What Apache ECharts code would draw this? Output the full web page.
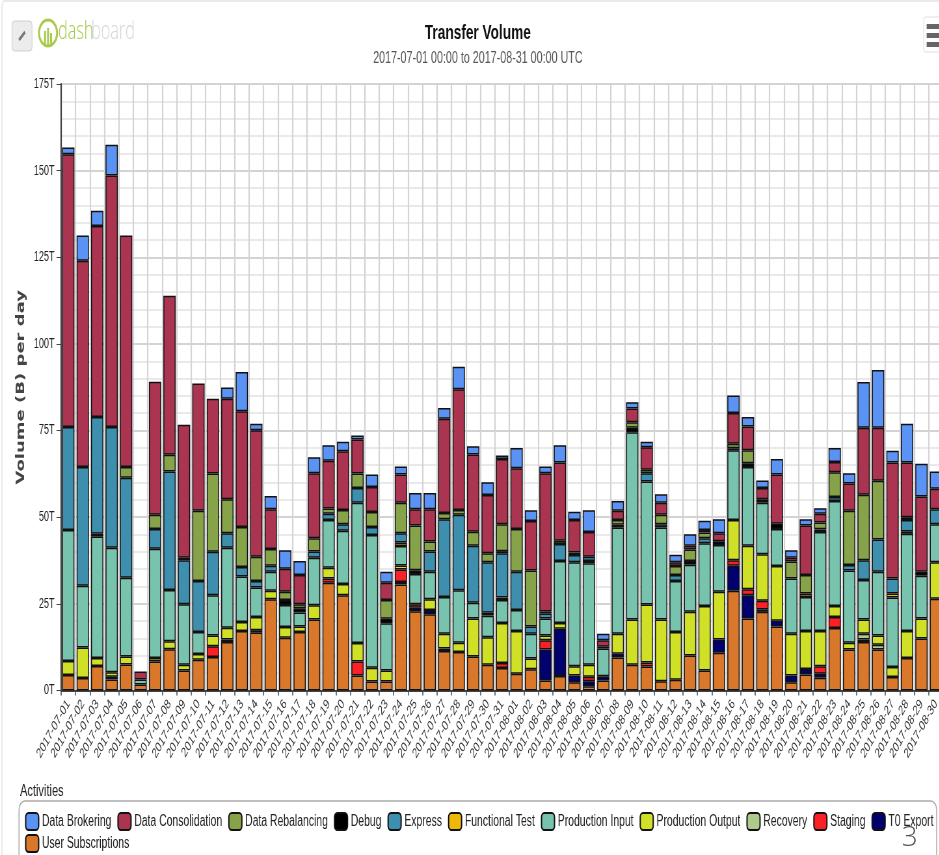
<!DOCTYPE html>
<html><head><meta charset="utf-8">
<style>html,body{margin:0;padding:0;background:#fff;overflow:hidden;width:939px;height:855px}
#c{width:1444.6px;height:855px;transform:scaleX(0.65);transform-origin:0 0}</style>
<script src="https://cdn.jsdelivr.net/npm/echarts@6/dist/echarts.min.js"></script>
</head><body><div id="c"></div>
<script>
const categories = [
"2017-07-01","2017-07-02","2017-07-03","2017-07-04","2017-07-05","2017-07-06","2017-07-07","2017-07-08","2017-07-09","2017-07-10",
"2017-07-11","2017-07-12","2017-07-13","2017-07-14","2017-07-15","2017-07-16","2017-07-17","2017-07-18","2017-07-19","2017-07-20",
"2017-07-21","2017-07-22","2017-07-23","2017-07-24","2017-07-25","2017-07-26","2017-07-27","2017-07-28","2017-07-29","2017-07-30",
"2017-07-31","2017-08-01","2017-08-02","2017-08-03","2017-08-04","2017-08-05","2017-08-06","2017-08-07","2017-08-08","2017-08-09",
"2017-08-10","2017-08-11","2017-08-12","2017-08-13","2017-08-14","2017-08-15","2017-08-16","2017-08-17","2017-08-18","2017-08-19",
"2017-08-20","2017-08-21","2017-08-22","2017-08-23","2017-08-24","2017-08-25","2017-08-26","2017-08-27","2017-08-28","2017-08-29","2017-08-30"];
const userSubscriptions = [4.5,3.6,7.1,3.2,7.5,1.7,8.4,11.9,5.8,8.9,
9.7,14,17.2,16.7,26.3,15.2,16.9,20.5,31.1,27.5,
4.3,2.6,2.6,30.6,22.9,22,11.4,11.1,9.8,7.4,
6.5,4.8,6.1,2.9,4.2,2.4,1.2,2.9,9.5,7.4,
6.9,2.7,3.1,10.1,5.8,10.9,28.8,20.8,22.7,18.5,
2.4,4.6,3.7,18,11.8,14,11.8,3.9,9.4,15,26.5];
const t0Export = [0,0,0,.8,0,0,0,0,0,0,
0,.7,0,.7,0,0,0,0,0,0,
0,0,0,.7,1,1.2,.7,0,0,0,
0,0,0,8.9,13.6,1.9,1.5,1.2,1.1,0,
0,0,0,0,0,3.8,7.2,6.7,.7,1.6,
1.9,1.6,1.1,0,0,.7,0,0,0,0,0];
const staging = [0,0,0,0,0,0,0,0,0,0,
3.1,0,0,0,0,0,0,0,1.2,0,
4.1,0,0,3.6,1,0,0,0,0,0,
1.4,0,0,2.7,0,0,1.3,0,0,0,
1.2,0,0,0,0,0,1.6,1.7,2.5,0,
0,0,2.2,3.2,0,0,0,0,0,0,0];
const recovery = [0,0,0,0,0,0,0,0,0,0,
0,0,0,0,0,0,0,0,0,0,
0,0,0,0,0,0,0,0,0,0,
0,0,0,0,0,0,0,0,0,0,
0,0,0,0,0,0,0,0,0,0,
0,0,0,0,0,1.7,1.4,0,0,0,0];
const productionOutput = [4,8.8,2.3,1.3,2.3,0,1,2.3,1.6,1.6,
3.1,3.4,2.6,3.8,2.5,3.1,1.6,4.1,3.1,3.2,
5.3,4,3.2,1.2,0,3.1,4.3,2.7,11,8,
11.6,12.4,3.1,1.4,1.7,2.7,3.4,0,5.8,13.1,
16.7,17.8,13.8,12.6,18.6,13.8,11.6,12.6,13.4,15.8,
12.1,11,10.2,3.2,2,4.1,2.7,2.9,7.8,5.8,10.5];
const productionInput = [37.8,17.8,35,35.9,22.7,1.5,31.5,14.8,17.5,6.4,
11.6,23.1,13.1,8.5,5.5,6.4,4,13.7,13.8,15.4,
40.5,38.3,13.6,5.6,8.7,8,10.6,15.1,4.5,6.2,
6.6,6,7.2,4.9,17.9,30,29.3,8,30.6,54,
35.5,26.5,14.7,13.6,18.1,13.5,20.1,22.7,14.9,10.7,
15.9,9.8,28.5,30.3,20.8,11.4,18.4,20,28,12.3,11];
const functionalTest = [0,0,.8,0,0,0,0,0,0,0,
0,0,0,0,0,0,0,0,0,0,
0,0,0,1,0,0,0,0,0,.8,
.7,0,0,0,0,0,.7,0,0,0,
0,0,0,0,0,0,0,0,0,0,
0,1,0,0,0,0,0,1.2,.7,0,0];
const express = [29.7,34.3,33.7,34.8,28.9,0,5.7,34.2,12.7,14.7,
12.5,4.2,2.7,1.9,1.7,0,0,1.8,1.8,1.9,
4.2,2.3,0,2.7,0,5.8,22.4,21.8,16.5,14.6,
12.8,11.1,2.1,1.4,4.9,2.1,1.2,0,0,0,
2.4,1,1.7,0,1.4,0,0,0,0,0,
0,0,0,1.1,1.6,5.7,9.3,4.3,3.3,0,4.3];
const debug = [0,0,0,0,0,0,0,0,.7,0,
0,0,0,0,0,1.4,1.2,0,0,0,
0,0,1.3,0,1.1,0,0,0,0,0,
.6,0,0,.6,0,.7,0,.5,.8,1.3,
0,0,0,1.1,0,1.1,.6,1.1,1,1.5,
0,0,.8,0,0,0,0,0,.8,1.2,0];
const dataRebalancing = [0,0,0,0,3.1,0,4.1,4.8,0,20.3,
22.6,9.8,11.6,7,4.8,2.4,1.2,3.8,1.5,4.1,
4.2,4.3,5.4,8.8,12.9,2.9,1.8,1.4,4,2.6,
7.8,12.3,16.1,0,.9,0,0,0,1.4,1.6,
1,2.7,2.6,3.3,1.7,0,1.3,3.7,0,0,
4.9,5.3,2,7.2,15.7,18.9,16.9,0,0,0,0];
const dataConsolidation = [78.7,59.5,55.1,72.6,66.8,2.3,38.4,45.9,38.4,36.7,
21.6,29,33.4,36.5,11.5,6.6,8.4,18.8,13.8,16.9,
9.8,7.2,5,8.1,4.7,9.3,27.2,34.8,22.3,16.8,
18.8,17.5,14.3,39.9,22.6,9.4,7.1,1.9,2.7,4,
6.5,3.5,1.1,1.1,.7,2.3,8.9,6.9,3.2,14.2,
1.1,14.3,2.5,2.9,7.8,19.3,15.3,33.5,15.8,21.7,5.9];
const dataBrokering = [2,7.3,4.4,8.9,0,0,0,0,0,0,
0,3.2,11.3,1.9,3.8,5.4,4.1,4.6,4.5,2.8,
1.2,3.6,3.2,2.3,4.7,4.7,3.1,6.5,2.4,3.7,
1,5.9,3.1,1.9,5,2.4,6.3,1.9,2.8,1.8,
1.6,2.4,2.2,3.3,2.7,4,5,2.7,2.2,4.5,
2.2,1.8,1.6,4.1,3,13.2,16.7,3.4,11.2,9.4,5];
const yTicks = {min:0,max:175,interval:25};
const legendRow1 = ["Data Brokering","Data Consolidation","Data Rebalancing","Debug","Express","Functional Test","Production Input","Production Output","Recovery","Staging","T0 Export"];
const legendRow2 = ["User Subscriptions"];

const stackOrder = [
 ["User Subscriptions",userSubscriptions,"#d9772a"],
 ["T0 Export",t0Export,"#00006e"],
 ["Staging",staging,"#fb2025"],
 ["Recovery",recovery,"#aec98c"],
 ["Production Output",productionOutput,"#cfe026"],
 ["Production Input",productionInput,"#77c3ad"],
 ["Functional Test",functionalTest,"#eeb80a"],
 ["Express",express,"#3d8fad"],
 ["Debug",debug,"#000000"],
 ["Data Rebalancing",dataRebalancing,"#86a34a"],
 ["Data Consolidation",dataConsolidation,"#ab3550"],
 ["Data Brokering",dataBrokering,"#5b93f5"]
];
const S = 0.65;
const X = v => v / S;
const sans = '"Liberation Sans",sans-serif';
const chart = echarts.init(document.getElementById('c'),null,{renderer:'canvas',width:1444.6,height:855});
const legendCommon = {orient:'horizontal',icon:'roundRect',itemWidth:X(13),itemHeight:17,itemGap:X(6),padding:0,width:X(920),selectedMode:false,
  textStyle:{fontFamily:sans,fontSize:16,color:'#222'}};
chart.setOption({
 animation:false,
 backgroundColor:'#fff',
 title:[
  {text:'Transfer Volume',left:X(477.5),top:23,padding:0,textAlign:'center',textStyle:{fontFamily:sans,fontSize:21,fontWeight:'bold',color:'#111'}},
  {text:'2017-07-01 00:00 to 2017-08-31 00:00 UTC',left:X(477.5),top:50,padding:0,textAlign:'center',textStyle:{fontFamily:sans,fontSize:16.5,fontWeight:'normal',color:'#555'}},
  {text:'Activities',left:X(20),top:783,padding:0,textStyle:{fontFamily:sans,fontSize:17,fontWeight:'normal',color:'#222'}}
 ],
 legend:[
  Object.assign({},legendCommon,{left:X(25),top:812,data:legendRow1}),
  Object.assign({},legendCommon,{left:X(25),top:834,data:legendRow2})
 ],
 grid:{left:X(61),top:84,width:X(881.5),height:606.5,outerBoundsMode:'none'},
 xAxis:{type:'category',data:categories,boundaryGap:true,
  axisLine:{lineStyle:{color:'#444',width:2}},
  axisTick:{show:true,interval:0,length:5,lineStyle:{color:'#444',width:1.5}},
  axisLabel:{interval:0,rotate:50,fontFamily:sans,fontSize:14,color:'#333',margin:11,hideOverlap:false},
  splitLine:{show:true,interval:0,lineStyle:{color:'#d4d4d4',width:2.2}}
 },
 yAxis:{type:'value',min:yTicks.min,max:yTicks.max,interval:yTicks.interval,
  name:'Volume (B) per day',nameLocation:'middle',nameGap:40,
  nameTextStyle:{fontFamily:'"DejaVu Sans",sans-serif',fontWeight:'bold',fontSize:18,color:'#444'},
  axisLine:{show:true,lineStyle:{color:'#444',width:2.2}},
  axisTick:{show:true,length:7,lineStyle:{color:'#444'}},
  axisLabel:{formatter:'{value}T',fontFamily:sans,fontSize:14,color:'#222',margin:10},
  splitLine:{show:true,lineStyle:{color:'#c4c4c4',width:1.5}},
  minorTick:{show:false,splitNumber:5},
  minorSplitLine:{show:true,lineStyle:{color:'#e2e2e2',width:1.5}}
 },
 series:stackOrder.map(([name,vals,color])=>({
  name,type:'bar',stack:'total',barWidth:X(12.3),
  data:vals.map(v=>v===0?null:v),
  itemStyle:{color,borderColor:'#111',borderWidth:1.5},
  emphasis:{disabled:true}
 })),
 graphic:[
  {type:'rect',silent:true,z:-1,shape:{x:X(2),y:1,width:X(960),height:900,r:4},style:{fill:'none',stroke:'#e2e2e2',lineWidth:1.5}},
  {type:'rect',silent:true,shape:{x:X(19),y:801,width:X(917),height:80,r:9},style:{fill:'none',stroke:'#aaa',lineWidth:1.5}},
  {type:'rect',silent:true,shape:{x:X(12),y:21,width:X(20),height:30,r:4},style:{fill:'#ececec',stroke:'#d0d0d0',lineWidth:1.2}},
  {type:'line',silent:true,shape:{x1:X(19),y1:40,x2:X(25),y2:32},style:{stroke:'#777',lineWidth:3}},
  {type:'ellipse',silent:true,shape:{cx:X(48),cy:33,rx:X(9),ry:13},style:{fill:'none',stroke:'#a9cb4d',lineWidth:3}},
  {type:'line',silent:true,shape:{x1:X(45),y1:46,x2:X(45),y2:31},style:{stroke:'#a9cb4d',lineWidth:3}},
  {type:'line',silent:true,shape:{x1:X(48),y1:46,x2:X(48),y2:28},style:{stroke:'#a9cb4d',lineWidth:3}},
  {type:'line',silent:true,shape:{x1:X(51),y1:46,x2:X(51),y2:33},style:{stroke:'#a9cb4d',lineWidth:3}},
  {type:'text',silent:true,style:{text:'dash',x:X(58),y:19,fill:'#a9cb4d',fontFamily:'"Open Sans",sans-serif',fontSize:25,fontWeight:300}},
  {type:'text',silent:true,style:{text:'board',x:X(91),y:19,fill:'#d6d6d6',fontFamily:'"Open Sans",sans-serif',fontSize:25,fontWeight:300}},
  {type:'rect',silent:true,shape:{x:X(923),y:17,width:X(30),height:35,r:3},style:{fill:'#fff',stroke:'#ddd',lineWidth:1}},
  {type:'rect',silent:true,shape:{x:X(926),y:24,width:X(15),height:5},style:{fill:'#666'}},
  {type:'rect',silent:true,shape:{x:X(926),y:33,width:X(15),height:5},style:{fill:'#666'}},
  {type:'rect',silent:true,shape:{x:X(926),y:42,width:X(15),height:5},style:{fill:'#666'}},
  {type:'text',silent:true,z:100,x:X(901),y:824,scaleX:1/S,style:{text:'3',fill:'#555',fontFamily:'"Open Sans",sans-serif',fontSize:28,fontWeight:300}}
 ]
});
</script></body></html>
